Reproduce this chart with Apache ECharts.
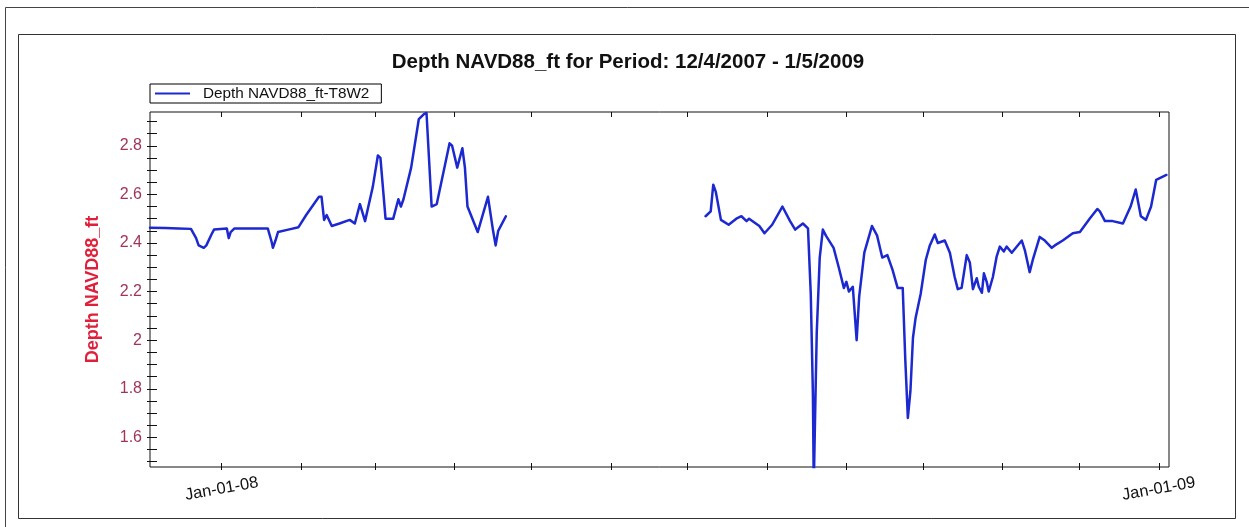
<!DOCTYPE html>
<html>
<head>
<meta charset="utf-8">
<script src="https://cdn.jsdelivr.net/npm/echarts@6/dist/echarts.min.js"></script>
<style>
html,body{margin:0;padding:0;background:#fff;}
#chart{width:1249px;height:527px;}
</style>
</head>
<body>
<div id="chart"></div>
<script>
const titleText = 'Depth NAVD88_ft for Period: 12/4/2007 - 1/5/2009';
const seriesName = 'Depth NAVD88_ft-T8W2';
const yAxisName = 'Depth NAVD88_ft';

const xMin = '2007-12-04';
const xMax = '2009-01-05';
const yMin = 1.478;
const yMax = 2.939;

const tickDates = ['2008-01-01','2008-02-01','2008-03-01','2008-04-01','2008-05-01','2008-06-01','2008-07-01','2008-08-01','2008-09-01','2008-10-01','2008-11-01','2008-12-01','2009-01-01'];
const labelDates = ['2008-01-01','2009-01-01'];
const labelTexts = ['Jan-01-08','Jan-01-09'];
const yLabelValues = [1.6,1.8,2.0,2.2,2.4,2.6,2.8];
const yTickValues = [1.5,1.55,1.6,1.65,1.7,1.75,1.8,1.85,1.9,1.95,2.0,2.05,2.1,2.15,2.2,2.25,2.3,2.35,2.4,2.45,2.5,2.55,2.6,2.65,2.7,2.75,2.8,2.85,2.9];

// First recorded segment
const dates1 = ['2007-12-04','2007-12-10','2007-12-15','2007-12-20','2007-12-22','2007-12-23','2007-12-25','2007-12-26','2007-12-28','2007-12-29','2008-01-03','2008-01-03 18:00','2008-01-04 12:00','2008-01-06','2008-01-12','2008-01-19','2008-01-20 12:00','2008-01-21','2008-01-22','2008-01-23','2008-01-27','2008-01-31','2008-02-03','2008-02-08','2008-02-09','2008-02-10','2008-02-11','2008-02-13','2008-02-16','2008-02-20','2008-02-22','2008-02-24','2008-02-26','2008-02-29','2008-03-02','2008-03-03','2008-03-05','2008-03-08','2008-03-10','2008-03-11','2008-03-12','2008-03-15','2008-03-18','2008-03-20','2008-03-21','2008-03-23','2008-03-25','2008-03-30','2008-03-31','2008-04-02','2008-04-04','2008-04-05','2008-04-06','2008-04-10','2008-04-14','2008-04-16','2008-04-17','2008-04-18','2008-04-21'];
const values1 = [2.463,2.462,2.460,2.458,2.42,2.39,2.38,2.39,2.435,2.455,2.46,2.42,2.445,2.46,2.46,2.46,2.405,2.38,2.41,2.445,2.455,2.465,2.515,2.59,2.59,2.495,2.515,2.47,2.48,2.495,2.48,2.56,2.49,2.63,2.76,2.75,2.50,2.50,2.58,2.55,2.58,2.71,2.91,2.93,2.935,2.55,2.56,2.81,2.80,2.71,2.79,2.71,2.55,2.445,2.59,2.45,2.39,2.45,2.51];

// Missing data (gap)
const gapDate = '2008-06-01';

// Second recorded segment
const dates2 = ['2008-07-08','2008-07-10','2008-07-11','2008-07-12','2008-07-14','2008-07-17','2008-07-20','2008-07-22','2008-07-24','2008-07-25','2008-07-29','2008-07-31','2008-08-03','2008-08-07','2008-08-10','2008-08-12','2008-08-15','2008-08-17','2008-08-18 02:00','2008-08-18 22:00','2008-08-19 06:00','2008-08-20 00:00','2008-08-20 10:00','2008-08-21 14:00','2008-08-22 19:00','2008-08-24','2008-08-27','2008-08-29','2008-08-31','2008-09-01','2008-09-02','2008-09-03 12:00','2008-09-05','2008-09-06','2008-09-08','2008-09-11','2008-09-13','2008-09-15','2008-09-17','2008-09-19','2008-09-21','2008-09-23','2008-09-24','2008-09-25','2008-09-26','2008-09-27','2008-09-28','2008-09-30','2008-10-02','2008-10-03 14:00','2008-10-05 12:00','2008-10-06 17:00','2008-10-09 10:00','2008-10-11 10:00','2008-10-13 07:00','2008-10-14 12:00','2008-10-16','2008-10-18','2008-10-19 05:00','2008-10-20 10:00','2008-10-21 22:00','2008-10-22 17:00','2008-10-23 22:00','2008-10-24 17:00','2008-10-25 19:00','2008-10-26 14:00','2008-10-28 05:00','2008-10-29 17:00','2008-10-30 22:00','2008-11-01 12:00','2008-11-02 14:00','2008-11-04 14:00','2008-11-08 12:00','2008-11-09 17:00','2008-11-11 14:00','2008-11-12 19:00','2008-11-15 12:00','2008-11-17 12:00','2008-11-20 05:00','2008-11-21 10:00','2008-11-24 12:00','2008-11-28 10:00','2008-12-01 05:00','2008-12-05','2008-12-08','2008-12-09','2008-12-11','2008-12-14','2008-12-18','2008-12-21','2008-12-23','2008-12-25','2008-12-27','2008-12-29','2008-12-31','2009-01-02','2009-01-04'];
const values2 = [2.51,2.53,2.64,2.61,2.495,2.475,2.50,2.51,2.49,2.50,2.47,2.44,2.475,2.55,2.49,2.455,2.48,2.46,2.19,1.78,1.40,1.81,2.03,2.34,2.455,2.43,2.38,2.30,2.215,2.24,2.20,2.22,2.00,2.18,2.36,2.47,2.43,2.34,2.35,2.29,2.215,2.215,1.92,1.68,1.79,2.01,2.09,2.19,2.33,2.39,2.435,2.40,2.41,2.36,2.26,2.21,2.215,2.35,2.32,2.21,2.255,2.22,2.195,2.275,2.24,2.20,2.26,2.345,2.385,2.365,2.385,2.36,2.41,2.37,2.28,2.33,2.425,2.41,2.38,2.39,2.41,2.44,2.445,2.50,2.54,2.53,2.49,2.49,2.48,2.55,2.62,2.51,2.495,2.55,2.66,2.67,2.68];

const ts = s => echarts.time.parse(s).getTime();
const tickTs = tickDates.map(ts);
const labelTs = labelDates.map(ts);

const seriesData = dates1.map((d, i) => [ts(d), values1[i]])
  .concat([[ts(gapDate), null]])
  .concat(dates2.map((d, i) => [ts(d), values2[i]]));

const FONT = '"Liberation Sans", Arial, sans-serif';
const LINE_COLOR = '#1c28d0';

const chart = echarts.init(document.getElementById('chart'), null, {renderer: 'canvas'});

function xLabelFormatter(v) {
  for (let i = 0; i < labelTs.length; i++) {
    if (Math.abs(labelTs[i] - v) < 3600000) return labelTexts[i];
  }
  return '';
}

const option = {
  animation: false,
  backgroundColor: '#ffffff',
  textStyle: {fontFamily: FONT},
  graphic: [
    {type: 'rect', shape: {x: 5.5, y: 7.5, width: 1300, height: 600}, style: {fill: 'none', stroke: '#444', lineWidth: 1}, z: -10, silent: true},
    {type: 'rect', shape: {x: 18.5, y: 34.5, width: 1217, height: 484}, style: {fill: 'none', stroke: '#333', lineWidth: 1}, z: -10, silent: true}
  ],
  title: {
    text: titleText,
    left: 623,
    textAlign: 'center',
    top: 47,
    textStyle: {fontFamily: FONT, fontSize: 20.5, fontWeight: 'bold', color: '#111'}
  },
  legend: {
    show: true,
    left: 150,
    top: 84,
    orient: 'horizontal',
    icon: 'rect',
    itemWidth: 35,
    itemHeight: 2,
    padding: [2, 12, 2, 5],
    borderColor: '#000',
    borderWidth: 1,
    borderRadius: 0,
    selectedMode: false,
    textStyle: {fontFamily: FONT, fontSize: 15.3, color: '#111', padding: [0, 0, 0, 8]},
    data: [seriesName]
  },
  grid: {
    left: 150,
    right: 80,
    top: 112,
    bottom: 60,
    show: true,
    borderColor: '#111',
    borderWidth: 1,
    backgroundColor: 'transparent',
    containLabel: false
  },
  xAxis: [
    {
      type: 'value', position: 'bottom', min: ts(xMin), max: ts(xMax),
      axisLine: {show: false},
      axisTick: {show: true, inside: true, length: 4, customValues: tickTs, lineStyle: {color: '#111'}},
      axisLabel: {
        show: true, customValues: labelTs, formatter: xLabelFormatter,
        rotate: 10, align: 'center', verticalAlign: 'middle', margin: 22,
        fontFamily: FONT, fontSize: 16.5, color: '#111'
      },
      splitLine: {show: false}
    },
    {
      type: 'value', position: 'bottom', min: ts(xMin), max: ts(xMax),
      axisLine: {show: false},
      axisTick: {show: true, inside: false, length: 3, customValues: tickTs, lineStyle: {color: '#111'}},
      axisLabel: {show: false},
      splitLine: {show: false}
    },
    {
      type: 'value', position: 'top', min: ts(xMin), max: ts(xMax),
      axisLine: {show: false},
      axisTick: {show: true, inside: true, length: 5, customValues: tickTs, lineStyle: {color: '#111'}},
      axisLabel: {show: false},
      splitLine: {show: false}
    }
  ],
  yAxis: [
    {
      type: 'value', position: 'left', min: yMin, max: yMax,
      axisLine: {show: false},
      axisTick: {show: true, inside: true, length: 7, customValues: yTickValues, lineStyle: {color: '#111'}},
      axisLabel: {show: true, customValues: yLabelValues, margin: 8, fontFamily: FONT, fontSize: 16, color: '#a0355a'},
      splitLine: {show: false},
      name: yAxisName,
      nameLocation: 'middle',
      nameGap: 48,
      nameRotate: 90,
      nameTextStyle: {fontFamily: FONT, fontSize: 18, fontWeight: 'bold', color: '#e0203a'}
    },
    {
      type: 'value', position: 'left', min: yMin, max: yMax,
      axisLine: {show: false},
      axisTick: {show: true, inside: false, length: 3, customValues: yTickValues, lineStyle: {color: '#111'}},
      axisLabel: {show: false},
      splitLine: {show: false}
    }
  ],
  series: [
    {
      name: seriesName,
      type: 'line',
      xAxisIndex: 0,
      yAxisIndex: 0,
      data: seriesData,
      showSymbol: false,
      symbol: 'none',
      connectNulls: false,
      clip: true,
      color: LINE_COLOR,
      lineStyle: {color: LINE_COLOR, width: 2.5, join: 'round', cap: 'round'}
    }
  ]
};

chart.setOption(option);
</script>
</body>
</html>
